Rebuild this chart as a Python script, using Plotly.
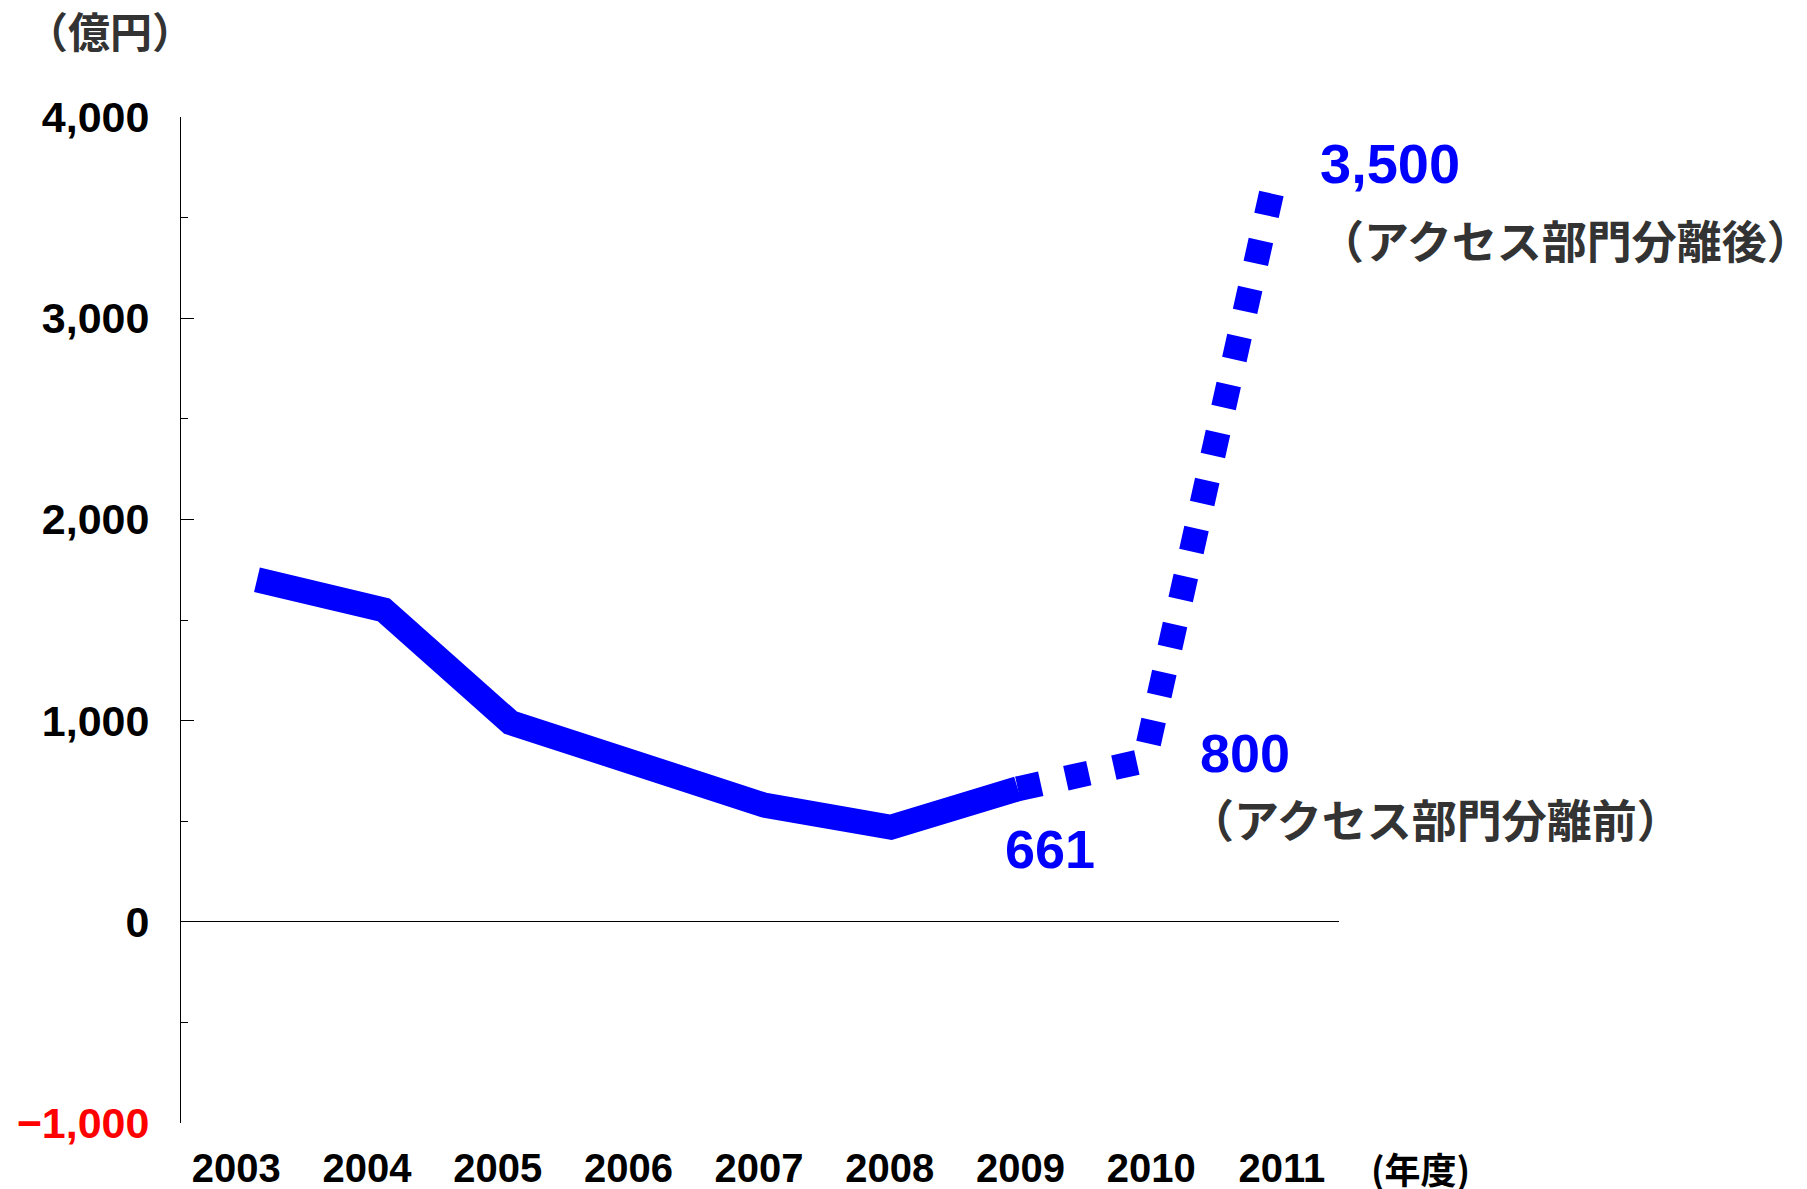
import plotly.graph_objects as go

# ---- data ----
years = [2003, 2004, 2005, 2006, 2007, 2008, 2009, 2010, 2011]
year_labels = ["2003", "2004", "2005", "2006", "2007", "2008", "2009", "2010", "2011"]
actual_years = [2003, 2004, 2005, 2006, 2007, 2008, 2009]
actual_values = [1700, 1550, 990, 800, 580, 470, 661]
plan_years = [2009, 2010, 2011]
plan_values = [661, 800, 3620]
value_labels = ["661", "800", "3,500"]
note_before = "（アクセス部門分離前）"
note_after = "（アクセス部門分離後）"
y_unit = "（億円）"
x_unit = "(年度)"
y_tickvals = [-1000, 0, 1000, 2000, 3000, 4000]
y_ticktext = ["<span style='color:#FF0000'>−1,000</span>", "0", "1,000", "2,000", "3,000", "4,000"]

# page body margin offset (8px) compensated in figure size
OFF = 8
W, H = 1807 - OFF, 1189 - OFF
L, R, T, B = 181 - OFF, 468, 117 - OFF, 66
PW, PH = W - L - R, H - T - B

def px(x):
    return (x - OFF - L) / PW

def py(y):
    return (OFF + H - B - y) / PH

BLUE = "#0000FF"
NUM_FONT = "Liberation Sans, Arial, sans-serif"
CJK_FONT = "Noto Sans CJK JP, sans-serif"

fig = go.Figure()
fig.add_trace(go.Scatter(x=actual_years, y=actual_values, mode="lines",
                         line=dict(color=BLUE, width=25), hoverinfo="skip"))
fig.add_trace(go.Scatter(x=plan_years, y=plan_values, mode="lines",
                         line=dict(color=BLUE, width=25, dash="23.5px,25.7px"), hoverinfo="skip"))
# invisible trace carrying the year label axis
fig.add_trace(go.Scatter(x=years, y=[None] * len(years), xaxis="x2", mode="lines",
                         hoverinfo="skip", showlegend=False))

x0 = years[0]
fig.update_layout(
    width=W, height=H,
    margin=dict(l=L, r=R, t=T, b=B, autoexpand=False),
    paper_bgcolor="white", plot_bgcolor="white",
    showlegend=False,
    xaxis=dict(range=[x0 - 0.599, x0 + 8.533],
               showticklabels=False, ticks="", showline=False,
               showgrid=False, zeroline=False, automargin=False),
    xaxis2=dict(overlaying="x", anchor="y", side="bottom",
                range=[x0 - 0.423, x0 + 8.437], tickmode="array", tickvals=years, ticktext=year_labels,
                showgrid=False, zeroline=False, showline=False,
                ticks="outside", ticklen=10, tickcolor="rgba(0,0,0,0)",
                tickfont=dict(family=NUM_FONT, size=40, color="black", weight="bold"),
                ticklabelstandoff=0, automargin=False),
    yaxis=dict(range=[-1000, 4000], tickmode="array", tickvals=y_tickvals, ticktext=y_ticktext,
               ticks="inside", ticklen=13, tickwidth=1, tickcolor="black",
               showline=True, linecolor="black", linewidth=1,
               zeroline=True, zerolinecolor="black", zerolinewidth=1,
               showgrid=False, automargin=False,
               minor=dict(dtick=500, tick0=0, ticks="inside", ticklen=7, tickcolor="black", showgrid=False),
               tickfont=dict(family=NUM_FONT, size=43, color="black", weight="bold"),
               ticklabelstandoff=22),
)

ann = []
# value labels anchored to data points
ann.append(dict(x=plan_years[0], y=plan_values[0], xref="x", yref="y", text=value_labels[0],
                xshift=32, yshift=-60, showarrow=False,
                font=dict(family=NUM_FONT, size=54, color=BLUE, weight="bold")))
ann.append(dict(x=plan_years[1], y=plan_values[1], xref="x", yref="y", text=value_labels[1],
                xshift=100, yshift=8, showarrow=False,
                font=dict(family=NUM_FONT, size=54, color=BLUE, weight="bold")))
ann.append(dict(x=plan_years[2], y=plan_values[2], xref="x", yref="y", text=value_labels[2],
                xshift=119, yshift=30, showarrow=False,
                font=dict(family=NUM_FONT, size=56, color=BLUE, weight="bold")))
ann.append(dict(x=plan_years[1], y=plan_values[1], xref="x", yref="y", text=note_before,
                xshift=291, yshift=-58, showarrow=False,
                font=dict(family=CJK_FONT, size=45, color="#333333", weight="bold")))
ann.append(dict(x=plan_years[2], y=plan_values[2], xref="x", yref="y", text=note_after,
                xshift=294, yshift=-46, showarrow=False,
                font=dict(family=CJK_FONT, size=45, color="#333333", weight="bold")))
ann.append(dict(x=px(110), y=py(30), xref="paper", yref="paper", text=y_unit,
                showarrow=False, xanchor="center", yanchor="middle",
                font=dict(family=CJK_FONT, size=42, color="#333333", weight="bold")))
ann.append(dict(x=px(1420), y=py(1168), xref="paper", yref="paper", text=x_unit,
                showarrow=False, xanchor="center", yanchor="middle",
                font=dict(family=CJK_FONT, size=36, color="black", weight="bold")))
fig.update_layout(annotations=ann)

fig.write_html("out.html")
